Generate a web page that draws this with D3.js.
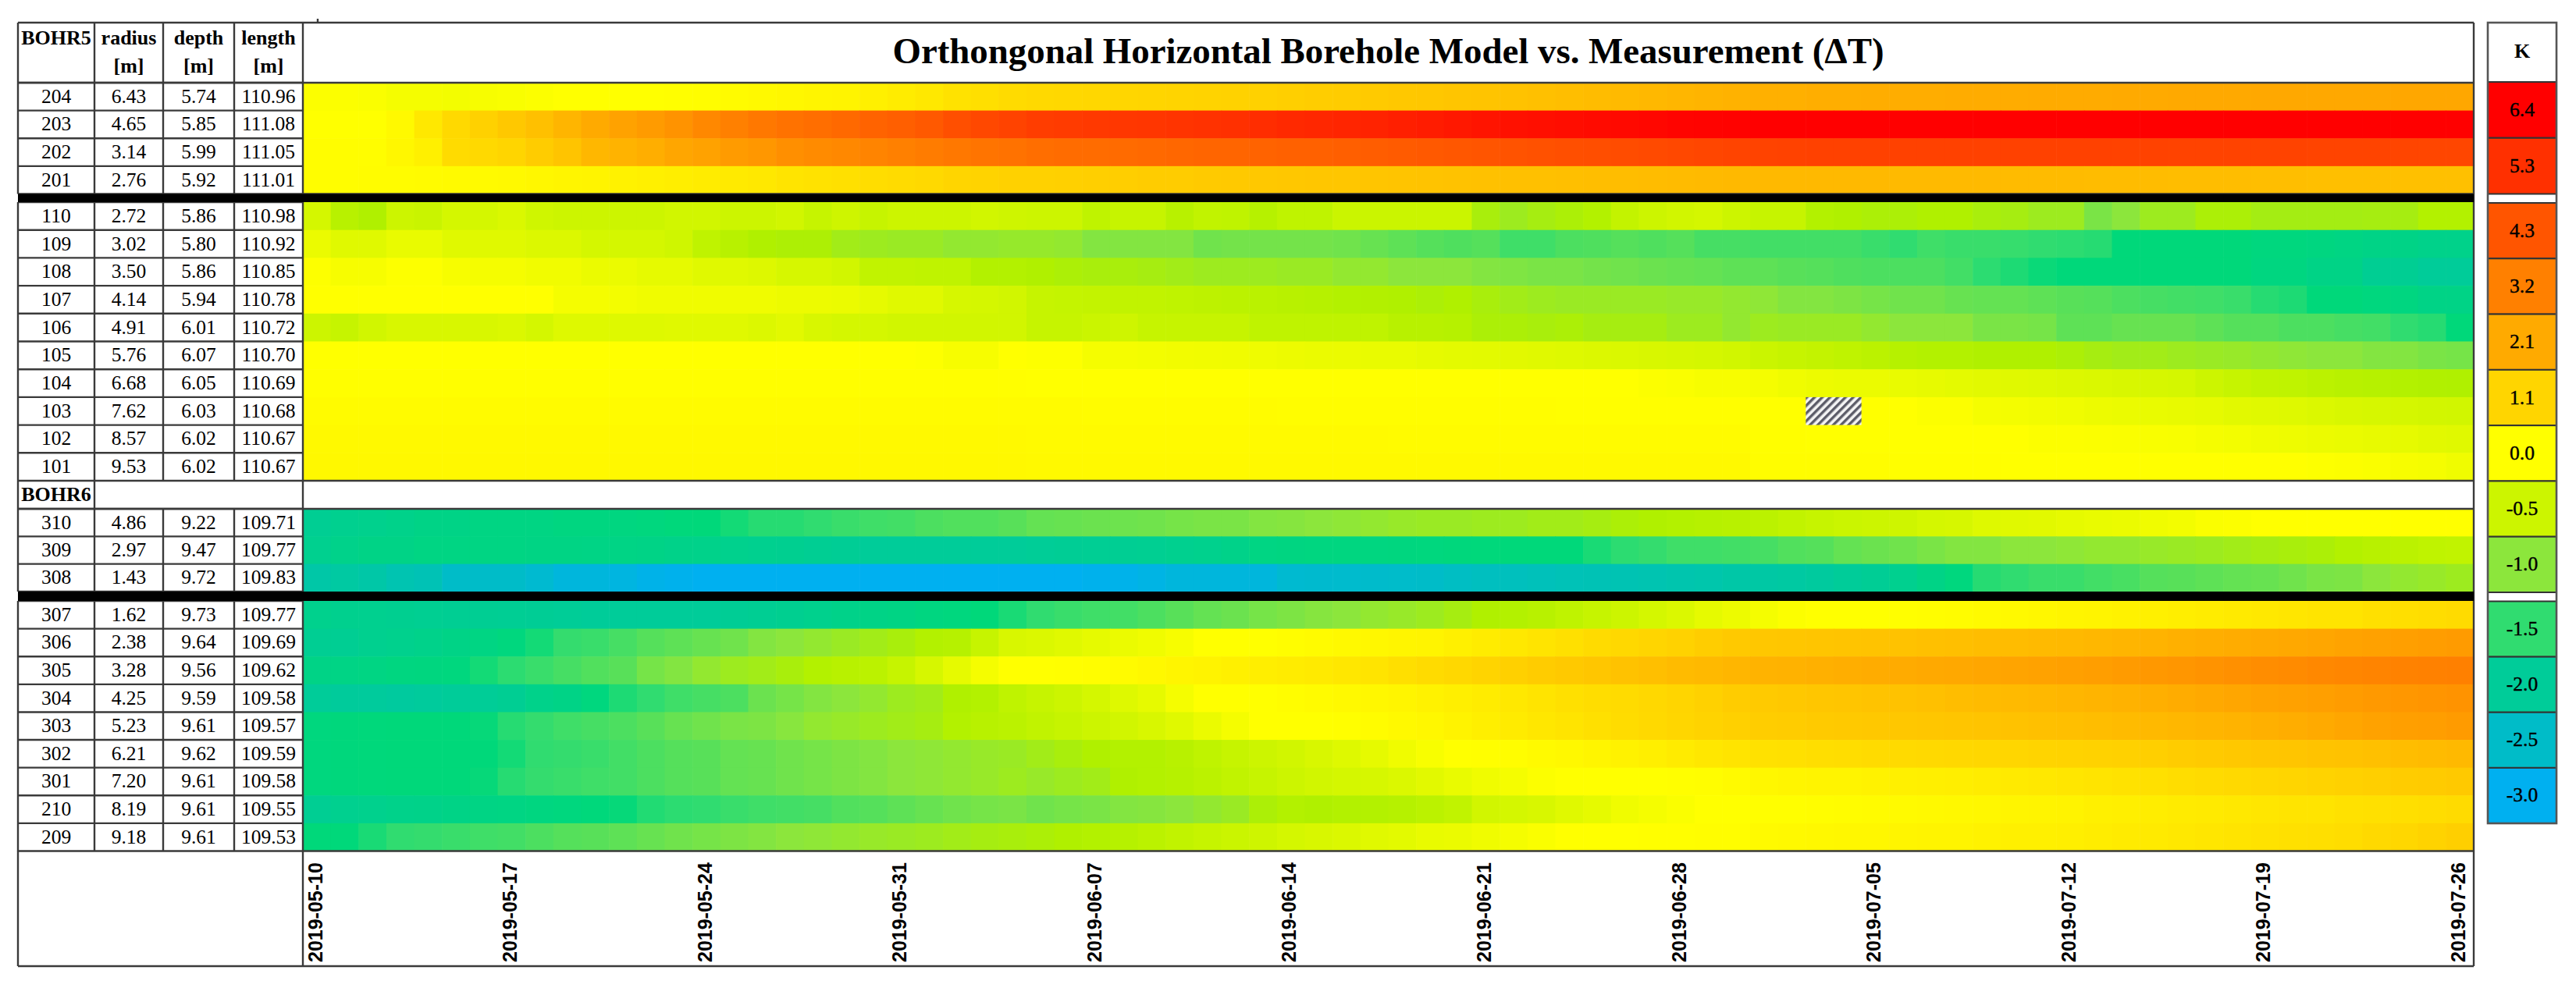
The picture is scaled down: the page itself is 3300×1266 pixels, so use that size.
<!DOCTYPE html>
<html>
<head>
<meta charset="utf-8">
<script src="https://cdnjs.cloudflare.com/ajax/libs/d3/7.8.5/d3.min.js"></script>
<style type='text/css'>
body { margin: 0; background: #fff; }
svg { display: block; }
text { font-family: "Liberation Serif", serif; fill: #000; }
.grid { stroke: #3a3a3a; stroke-width: 2.4; fill: none; }
.frame { stroke: #555; stroke-width: 2.6; fill: none; }
.dates text { font-family: "Liberation Sans", sans-serif; font-weight: bold; font-size: 25px; }
</style>
</head>
<body>
<div id="plot"></div>
<script type='text/javascript'>
var title = "Orthongonal Horizontal Borehole Model vs. Measurement (\u0394T)";
var headerTop = ["BOHR5", "radius", "depth", "length"];
var headerBottom = ["", "[m]", "[m]", "[m]"];
var secondHeader = "BOHR6";
var tickLabels = ["2019-05-10","2019-05-17","2019-05-24","2019-05-31","2019-06-07","2019-06-14","2019-06-21","2019-06-28","2019-07-05","2019-07-12","2019-07-19","2019-07-26"];

var ids = ["204","203","202","201","110","109","108","107","106","105","104","103","102","101","310","309","308","307","306","305","304","303","302","301","210","209"];
var radius = ["6.43","4.65","3.14","2.76","2.72","3.02","3.50","4.14","4.91","5.76","6.68","7.62","8.57","9.53","4.86","2.97","1.43","1.62","2.38","3.28","4.25","5.23","6.21","7.20","8.19","9.18"];
var depth = ["5.74","5.85","5.99","5.92","5.86","5.80","5.86","5.94","6.01","6.07","6.05","6.03","6.02","6.02","9.22","9.47","9.72","9.73","9.64","9.56","9.59","9.61","9.62","9.61","9.61","9.61"];
var length = ["110.96","111.08","111.05","111.01","110.98","110.92","110.85","110.78","110.72","110.70","110.69","110.68","110.67","110.67","109.71","109.77","109.83","109.77","109.69","109.62","109.58","109.57","109.59","109.58","109.55","109.53"];

var legendValues = [6.4,5.3,4.3,3.2,2.1,1.1,0,-0.5,-1,-1.5,-2,-2.5,-3];
var colorStops = [-3,-2.5,-2,-1.75,-1.5,-1,-0.75,-0.5,0,1.1,2.1,3.2,4.3,5.3,6.4];
var colorValues = ["#00b0f0","#00bcc8","#00cc99","#00d87a","#30dc70","#8ce63c","#b0f000","#ccf500","#ffff00","#ffd500","#ffaa00","#ff8000","#ff5500","#ff3000","#ff0000"];

// one value per day
var row204 = [-.03,-.03,-.05,-.1,-.1,-.12,-.08,-.06,-.03,0,0,0,0,.03,.06,.1,.15,.2,.25,.3,.4,.5,.6,.75,.85,.95,
  1,1.02,1.05,1.07,1.1,1.12,1.15,1.18,1.2,1.25,1.28,1.32,1.35,1.4,1.43,1.47,1.5,1.55,1.6,1.63,1.68,1.72,1.77,1.82,1.87,1.92,
  1.95,1.97,2,2,2.02,2.02,2.03,2.05,2.05,2.06,2.07,2.08,2.08,2.1,2.1,2.12,2.12,2.13,2.14,2.15,2.15,2.16,2.16,2.17,2.18,2.18];
var row203 = [0,0,0,.15,.6,1,1.2,1.4,1.6,1.85,2.1,2.3,2.5,2.7,3,3.2,3.4,3.55,3.65,3.8,3.95,4.05,4.2,4.45,4.65,4.8,
  4.95,5,5.05,5.1,5.15,5.2,5.25,5.3,5.37,5.45,5.5,5.55,5.6,5.7,5.75,5.85,5.95,6,6.05,6.1,6.15,6.2,6.25,6.3,6.33,6.35,
  6.4,6.4,6.4,6.4,6.4,6.4,6.4,6.4,6.4,6.4,6.4,6.4,6.4,6.4,6.4,6.4,6.4,6.4,6.4,6.4,6.4,6.4,6.4,6.4,6.4,6.4];
var row202 = [.05,.05,.05,.2,.4,.95,1,1.1,1.3,1.5,1.8,1.9,2,2.2,2.3,2.5,2.6,2.8,2.9,3,3.1,3.2,3.3,3.4,3.5,3.55,
  3.65,3.7,3.7,3.75,3.8,3.85,3.9,3.9,3.95,4,4,4.05,4.1,4.15,4.2,4.25,4.3,4.35,4.4,4.45,4.5,4.55,4.6,4.65,4.7,4.75,
  4.8,4.82,4.85,4.85,4.85,4.85,4.85,4.85,4.85,4.85,4.85,4.85,4.85,4.82,4.82,4.8,4.8,4.8,4.78,4.78,4.75,4.75,4.75,4.72,4.7,4.7];
var row201 = [.05,.05,.07,.08,.1,.12,.14,.16,.2,.25,.3,.35,.4,.45,.5,.55,.6,.7,.75,.8,.9,.95,1,1.1,1.15,1.2,
  1.2,1.22,1.25,1.27,1.3,1.32,1.35,1.37,1.4,1.42,1.44,1.46,1.48,1.5,1.52,1.54,1.56,1.58,1.6,1.62,1.64,1.66,1.68,1.7,1.72,1.75,
  1.75,1.75,1.75,1.74,1.74,1.73,1.73,1.72,1.72,1.71,1.7,1.7,1.69,1.68,1.67,1.66,1.65,1.65,1.64,1.63,1.62,1.62,1.61,1.6,1.6,1.6];
var row110 = [-.42,-.68,-.75,-.5,-.53,-.42,-.42,-.36,-.47,-.5,-.5,-.5,-.5,-.45,-.45,-.5,-.5,-.45,-.55,-.48,-.55,-.5,-.5,-.5,-.45,-.48,
  -.5,-.5,-.62,-.55,-.55,-.68,-.6,-.62,-.7,-.62,-.62,-.52,-.52,-.52,-.52,-.52,-.8,-.88,-.82,-.78,-.72,-.58,-.5,-.45,-.42,-.5,
  -.55,-.55,-.72,-.75,-.78,-.78,-.75,-.75,-.8,-.82,-.88,-.88,-1.1,-1,-.88,-.88,-.78,-.78,-.83,-.83,-.83,-.83,-.82,-.82,-.72,-.72];
var row109 = [-.2,-.3,-.3,-.22,-.22,-.3,-.3,-.3,-.34,-.34,-.42,-.42,-.42,-.47,-.62,-.68,-.75,-.77,-.77,-.85,-.88,-.9,-.9,-.95,-.95,-.93,
  -.93,-.95,-1.05,-1.05,-1.05,-1.05,-1.15,-1.13,-1.13,-1.13,-1.13,-1.15,-1.2,-1.25,-1.3,-1.33,-1.3,-1.42,-1.42,-1.35,-1.33,-1.3,-1.33,-1.3,-1.38,-1.38,
  -1.4,-1.4,-1.4,-1.4,-1.45,-1.5,-1.42,-1.45,-1.45,-1.47,-1.5,-1.52,-1.55,-1.75,-1.75,-1.75,-1.75,-1.75,-1.78,-1.78,-1.8,-1.82,-1.85,-1.85,-1.88,-1.88];
var row108 = [-.02,-.08,-.08,-.02,-.02,-.08,-.1,-.1,-.14,-.14,-.2,-.2,-.25,-.25,-.3,-.3,-.33,-.4,-.4,-.45,-.6,-.6,-.62,-.62,-.72,-.72,
  -.75,-.78,-.8,-.8,-.82,-.85,-.88,-.88,-.88,-.9,-.9,-.95,-.95,-1,-1,-1,-1.05,-1.07,-1.1,-1.1,-1.13,-1.15,-1.18,-1.2,-1.22,-1.25,
  -1.25,-1.28,-1.3,-1.33,-1.35,-1.35,-1.35,-1.4,-1.52,-1.6,-1.7,-1.75,-1.75,-1.75,-1.75,-1.75,-1.75,-1.75,-1.8,-1.8,-1.85,-1.85,-1.95,-1.95,-2,-2];
var row107 = [0,0,0,0,0,0,0,0,0,-.1,-.1,-.12,-.15,-.15,-.15,-.15,-.15,-.18,-.18,-.2,-.25,-.3,-.3,-.4,-.42,-.45,
  -.55,-.57,-.58,-.6,-.6,-.62,-.63,-.65,-.66,-.68,-.7,-.72,-.73,-.75,-.78,-.75,-.8,-.85,-.88,-.9,-.9,-.9,-.9,-.92,-.92,-.95,
  -.98,-1.05,-1.05,-1.08,-1.12,-1.15,-1.15,-1.2,-1.22,-1.22,-1.25,-1.28,-1.3,-1.35,-1.38,-1.4,-1.42,-1.45,-1.55,-1.6,-1.75,-1.75,-1.78,-1.8,-1.85,-1.85];
var row106 = [-.5,-.55,-.45,-.38,-.38,-.38,-.38,-.35,-.42,-.32,-.32,-.32,-.32,-.3,-.3,-.3,-.34,-.28,-.38,-.42,-.42,-.45,-.45,-.45,-.45,-.45,
  -.55,-.55,-.52,-.48,-.55,-.55,-.55,-.55,-.62,-.62,-.62,-.62,-.62,-.68,-.68,-.7,-.78,-.78,-.8,-.78,-.82,-.82,-.82,-.88,-.88,-.95,
  -.88,-.9,-.9,-.9,-.95,-1,-1,-1,-1.1,-1.1,-1.12,-1.25,-1.25,-1.2,-1.2,-1.2,-1.25,-1.3,-1.3,-1.35,-1.35,-1.38,-1.4,-1.5,-1.55,-1.75];
var row105 = [0,0,0,0,0,0,0,0,0,0,0,0,0,0,0,0,0,0,0,0,0,0,-.02,-.08,-.08,0,
  -.02,-.02,-.1,-.1,-.12,-.13,-.14,-.15,-.16,-.18,-.2,-.2,-.22,-.22,-.25,-.26,-.27,-.28,-.3,-.32,-.34,-.36,-.38,-.4,-.42,-.45,
  -.52,-.55,-.58,-.62,-.65,-.7,-.72,-.72,-.75,-.75,-.75,-.78,-.82,-.85,-.85,-.88,-.9,-.92,-.95,-.98,-1,-1,-1.05,-1.05,-1.1,-1.12];
var row104 = [.02,.02,.02,.02,.02,.02,.02,.02,.02,.02,.02,.02,.02,.02,.02,.02,.02,.02,.02,.02,.02,.02,.02,.02,.02,.02,
  0,0,0,0,0,0,0,0,0,0,0,0,0,0,0,0,0,0,0,0,0,0,-.03,-.05,-.08,-.08,
  -.1,-.15,-.18,-.2,-.2,-.22,-.24,-.26,-.28,-.3,-.32,-.34,-.36,-.38,-.4,-.42,-.5,-.55,-.6,-.62,-.65,-.68,-.7,-.72,-.74,-.75];
var row103 = [.1,.1,.1,.1,.1,.1,.1,.1,.1,.1,.1,.1,.1,.1,.1,.1,.1,.1,.1,.1,.1,.1,.1,.1,.1,.1,
  .1,.1,.08,.08,.08,.08,.07,.07,.07,.06,.06,.06,.05,.05,.05,.05,.04,.04,.04,.03,.03,.03,.02,.02,.02,.02,
  0,0,null,null,0,0,-.03,-.03,-.1,-.11,-.13,-.15,-.18,-.2,-.22,-.23,-.25,-.28,-.3,-.32,-.35,-.38,-.4,-.42,-.44,-.45];
var row102 = [.15,.15,.15,.15,.15,.15,.15,.15,.15,.15,.15,.15,.15,.15,.15,.15,.15,.15,.15,.15,.15,.15,.15,.15,.15,.15,
  .13,.13,.13,.13,.13,.13,.13,.13,.13,.13,.13,.13,.13,.1,.1,.1,.1,.1,.1,.1,.1,.1,.1,.1,.1,.1,
  .02,.02,.01,.01,0,0,0,0,0,0,-.03,-.03,-.04,-.05,-.06,-.07,-.1,-.12,-.15,-.17,-.19,-.21,-.23,-.25,-.28,-.3];
var row101 = [.18,.18,.18,.18,.18,.18,.18,.18,.18,.18,.18,.18,.18,.18,.18,.18,.18,.18,.18,.18,.18,.18,.18,.18,.18,.18,
  .15,.15,.15,.15,.15,.15,.15,.15,.15,.15,.15,.15,.15,.15,.15,.15,.15,.15,.15,.15,.15,.15,.15,.15,.15,.15,
  .05,.05,.05,.04,.04,.03,.03,.02,.02,.01,.01,0,0,0,0,0,0,0,0,0,-.02,-.03,-.05,-.08,-.1,-.15];
var row310 = [-1.95,-1.92,-1.9,-1.88,-1.85,-1.85,-1.82,-1.82,-1.82,-1.8,-1.8,-1.8,-1.78,-1.76,-1.75,-1.65,-1.55,-1.55,-1.5,-1.45,-1.42,-1.4,-1.35,-1.32,-1.32,-1.28,
  -1.22,-1.2,-1.18,-1.17,-1.15,-1.12,-1.1,-1.1,-1.05,-1.03,-1,-.98,-.95,-.92,-.9,-.9,-.88,-.88,-.85,-.85,-.82,-.78,-.75,-.72,-.7,-.68,
  -.65,-.6,-.55,-.52,-.5,-.48,-.42,-.4,-.32,-.3,-.28,-.25,-.22,-.2,-.15,-.12,-.05,-.03,0,0,0,0,0,0,0,0];
var row309 = [-1.92,-1.88,-1.85,-1.85,-1.82,-1.82,-1.82,-1.82,-1.83,-1.83,-1.84,-1.84,-1.85,-1.87,-1.88,-1.9,-1.92,-1.93,-1.95,-1.97,-2,-2,-2,-2,-2,-2,
  -1.98,-1.97,-1.96,-1.95,-1.94,-1.92,-1.9,-1.87,-1.82,-1.81,-1.8,-1.8,-1.8,-1.79,-1.78,-1.77,-1.76,-1.75,-1.75,-1.75,-1.62,-1.52,-1.48,-1.42,-1.42,-1.4,
  -1.38,-1.32,-1.3,-1.22,-1.18,-1.15,-1.1,-1.05,-1.05,-1,-1,-.98,-.95,-.95,-.92,-.9,-.88,-.85,-.82,-.8,-.78,-.72,-.68,-.65,-.62,-.6];
var row308 = [-2.15,-2.1,-2.15,-2.25,-2.3,-2.5,-2.5,-2.5,-2.6,-2.75,-2.75,-2.8,-2.9,-2.95,-3,-3,-3,-3,-3,-3,-3,-3,-3,-3,-3,-3,
  -3,-3,-2.95,-2.92,-2.85,-2.75,-2.75,-2.75,-2.75,-2.6,-2.58,-2.56,-2.54,-2.52,-2.5,-2.45,-2.4,-2.38,-2.35,-2.32,-2.3,-2.28,-2.25,-2.22,-2.2,-2.15,
  -2.12,-2.1,-2.05,-2,-1.97,-1.92,-1.85,-1.78,-1.55,-1.5,-1.45,-1.45,-1.4,-1.37,-1.3,-1.28,-1.25,-1.22,-1.2,-1.15,-1.1,-1.08,-1,-.95,-.92,-.88];
var row307 = [-1.9,-1.91,-1.92,-1.93,-1.94,-1.95,-1.95,-1.96,-1.97,-1.98,-2,-2,-2,-2,-2,-1.97,-1.95,-1.93,-1.9,-1.87,-1.85,-1.83,-1.8,-1.78,-1.75,-1.62,
  -1.5,-1.45,-1.42,-1.4,-1.35,-1.28,-1.22,-1.18,-1.12,-1.08,-1.03,-1,-.95,-.92,-.88,-.82,-.75,-.72,-.68,-.62,-.55,-.5,-.42,-.35,-.25,-.18,
  -.1,-.03,0,0,0,.02,.05,.08,.12,.15,.2,.25,.3,.35,.4,.45,.5,.55,.6,.65,.7,.72,.8,.85,.9,.95];
var row306 = [-1.95,-1.95,-1.92,-1.9,-1.88,-1.85,-1.82,-1.78,-1.65,-1.48,-1.45,-1.38,-1.3,-1.25,-1.2,-1.15,-1.05,-1,-.95,-.9,-.85,-.8,-.72,-.7,-.55,-.38,
  -.35,-.3,-.25,-.2,-.15,-.08,0,0,0,.05,.1,.15,.2,.25,.3,.4,.5,.6,.72,.82,.95,1.02,1.1,1.18,1.28,1.38,
  1.42,1.45,1.48,1.5,1.52,1.55,1.58,1.62,1.65,1.68,1.72,1.75,1.8,1.85,1.9,1.95,2,2.05,2.1,2.15,2.2,2.28,2.33,2.4,2.45,2.5];
var row305 = [-1.85,-1.84,-1.82,-1.8,-1.79,-1.78,-1.65,-1.52,-1.45,-1.38,-1.32,-1.28,-1.12,-1.05,-.95,-.88,-.85,-.8,-.72,-.68,-.65,-.55,-.4,-.25,-.1,0,
  0,.03,.06,.1,.18,.25,.32,.38,.45,.5,.55,.62,.72,.85,.95,1.03,1.12,1.22,1.3,1.38,1.45,1.55,1.62,1.7,1.75,1.82,
  1.88,1.92,1.96,2,2.05,2.08,2.12,2.15,2.2,2.25,2.3,2.35,2.42,2.5,2.58,2.62,2.7,2.78,2.85,2.92,3,3.05,3.1,3.15,3.18,3.2];
var row304 = [-2,-2.02,-2.03,-2.05,-2.03,-2,-1.98,-1.95,-1.88,-1.85,-1.78,-1.6,-1.5,-1.42,-1.38,-1.35,-1.18,-1.12,-1.05,-1,-.95,-.88,-.85,-.75,-.72,-.62,
  -.55,-.5,-.42,-.32,-.25,-.1,0,0,0,.05,.1,.15,.2,.25,.35,.42,.5,.6,.7,.8,.88,.95,1.02,1.1,1.2,1.3,
  1.36,1.4,1.45,1.48,1.52,1.55,1.6,1.65,1.7,1.73,1.77,1.82,1.87,1.92,1.98,2.05,2.12,2.2,2.28,2.33,2.4,2.47,2.55,2.6,2.65,2.7];
var row303 = [-1.78,-1.77,-1.76,-1.75,-1.75,-1.75,-1.72,-1.55,-1.48,-1.42,-1.38,-1.35,-1.28,-1.2,-1.15,-1.1,-1.08,-1.02,-.95,-.92,-.88,-.85,-.82,-.72,-.68,-.65,
  -.6,-.55,-.5,-.45,-.38,-.3,-.2,-.1,0,0,0,.03,.08,.15,.22,.32,.42,.52,.62,.72,.82,.92,1,1.07,1.14,1.22,
  1.28,1.32,1.35,1.38,1.4,1.42,1.45,1.48,1.5,1.55,1.58,1.62,1.65,1.7,1.75,1.8,1.85,1.9,1.95,2.02,2.1,2.2,2.3,2.38,2.42,2.5];
var row302 = [-1.78,-1.77,-1.76,-1.75,-1.75,-1.75,-1.75,-1.65,-1.5,-1.48,-1.45,-1.4,-1.35,-1.3,-1.28,-1.22,-1.2,-1.15,-1.12,-1.08,-1.05,-1,-.98,-.95,-.92,-.9,
  -.85,-.8,-.75,-.72,-.72,-.68,-.62,-.55,-.5,-.45,-.38,-.32,-.25,-.15,-.07,0,.02,.06,.12,.18,.25,.33,.42,.52,.62,.72,
  .78,.82,.86,.9,.93,.97,1,1.02,1.05,1.08,1.12,1.15,1.18,1.2,1.25,1.3,1.35,1.4,1.45,1.48,1.52,1.55,1.6,1.65,1.7,1.75];
var row301 = [-1.78,-1.77,-1.76,-1.75,-1.75,-1.75,-1.72,-1.55,-1.48,-1.45,-1.42,-1.4,-1.35,-1.3,-1.28,-1.22,-1.2,-1.15,-1.12,-1.08,-1.05,-1,-.98,-.95,-.92,-.88,
  -.92,-.88,-.85,-.75,-.72,-.7,-.65,-.6,-.55,-.5,-.45,-.42,-.4,-.35,-.28,-.22,-.15,-.1,-.03,0,0,0,0,.03,.05,.12,
  .2,.25,.28,.3,.35,.38,.42,.45,.5,.55,.6,.65,.7,.75,.82,.88,.95,1,1.05,1.1,1.15,1.2,1.25,1.3,1.33,1.38];
var row210 = [-1.95,-1.92,-1.9,-1.88,-1.87,-1.85,-1.83,-1.82,-1.8,-1.78,-1.76,-1.72,-1.58,-1.52,-1.5,-1.45,-1.42,-1.4,-1.38,-1.32,-1.3,-1.25,-1.2,-1.15,-1.12,-1.1,
  -1.15,-1.12,-1.1,-1.05,-1.03,-1,-.95,-.9,-.78,-.72,-.75,-.72,-.72,-.7,-.65,-.6,-.45,-.42,-.38,-.3,-.25,-.15,-.1,-.05,0,0,
  .02,.03,.05,.08,.1,.12,.15,.18,.2,.25,.28,.32,.38,.42,.48,.52,.55,.6,.65,.7,.72,.78,.82,.85,.9,.95];
var row209 = [-1.75,-1.75,-1.62,-1.5,-1.48,-1.45,-1.42,-1.4,-1.35,-1.3,-1.28,-1.25,-1.2,-1.15,-1.12,-1.08,-1.05,-1,-.98,-.95,-.92,-.9,-.88,-.85,-.82,-.8,
  -.78,-.75,-.72,-.7,-.65,-.6,-.55,-.52,-.48,-.42,-.38,-.35,-.3,-.27,-.22,-.2,-.15,-.1,-.05,0,0,.01,.02,.03,.04,.05,
  .12,.15,.18,.2,.22,.25,.28,.3,.35,.38,.4,.42,.48,.52,.55,.6,.65,.7,.75,.8,.85,.9,1,1.05,1.15,1.25];

var rows = [row204,row203,row202,row201,row110,row109,row108,row107,row106,row105,row104,row103,row102,row101,row310,row309,row308,row307,row306,row305,row304,row303,row302,row301,row210,row209];

var width = 3300, height = 1266;
var left = 23, heatLeft = 388, heatRight = 3169, top0 = 29, headBottom = 106, bottom = 1238;
var colEdges = [23, 121, 209, 300, 388];

var days = d3.utcDay.range(new Date(Date.UTC(2019,4,10)), new Date(Date.UTC(2019,6,27))).map(d3.utcFormat("%Y-%m-%d"));
var x = d3.scaleBand().domain(days).range([heatLeft, heatRight]);
var color = d3.scaleLinear().domain(colorStops).range(colorValues).clamp(true);

// the four blocks of rows, separated by the black bars and the BOHR6 line
var blocks = [
  {from: 0, to: 4, y0: 106, y1: 248.5},
  {from: 4, to: 14, y0: 259, y1: 616},
  {from: 14, to: 17, y0: 652, y1: 758},
  {from: 17, to: 26, y0: 770, y1: 1090.5}
];
blocks.forEach(function(b) {
  b.y = d3.scaleBand().domain(ids.slice(b.from, b.to)).range([b.y0, b.y1]);
});

var svg = d3.select("div#plot").append("svg")
    .attr("width", width)
    .attr("height", height);

var pattern = svg.append("defs").append("pattern")
    .attr("id", "hatch")
    .attr("patternUnits", "userSpaceOnUse")
    .attr("width", 7)
    .attr("height", 7)
    .attr("patternTransform", "rotate(45)");
pattern.append("rect").attr("width", 7).attr("height", 7).attr("fill", "#f4f4f4");
pattern.append("rect").attr("width", 3.4).attr("height", 7).attr("fill", "#5c5c68");

// heat cells
blocks.forEach(function(b) {
  ids.slice(b.from, b.to).forEach(function(id) {
    var values = rows[ids.indexOf(id)];
    svg.append("g").selectAll("rect")
      .data(values)
      .enter().append("rect")
        .attr("x", function(d, i) { return x(days[i]); })
        .attr("y", b.y(id))
        .attr("width", x.bandwidth() + 0.6)
        .attr("height", b.y.bandwidth() + 0.6)
        .attr("fill", function(d) { return d === null ? "url(#hatch)" : color(d); });
  });
});

// table lines and texts
var lines = svg.append("g").attr("class", "grid");
function hline(x1, x2, y) { lines.append("line").attr("x1", x1).attr("x2", x2).attr("y1", y).attr("y2", y); }
function vline(xv, y1, y2) { lines.append("line").attr("x1", xv).attr("x2", xv).attr("y1", y1).attr("y2", y2); }

blocks.forEach(function(b) {
  colEdges.forEach(function(e) { vline(e, b.y0, b.y1); });
  b.y.domain().forEach(function(id) { hline(left, heatLeft, b.y(id)); });
  hline(left, heatLeft, b.y1);
});
colEdges.forEach(function(e) { vline(e, top0, headBottom); });
vline(left, 616, 652); vline(colEdges[1], 616, 652); vline(heatLeft, 616, 652);
vline(left, 1090, bottom); vline(heatLeft, 1090, bottom);
hline(left, heatRight, top0);
hline(left, heatRight, headBottom);
hline(heatLeft, heatRight, 248.5);
hline(heatLeft, heatRight, 616);
hline(left, heatRight, 652);
hline(heatLeft, heatRight, 1090.5);
hline(left, heatRight, bottom);
vline(heatRight, top0, bottom);
vline(407, 24, top0);

svg.append("rect").attr("x", left).attr("y", 248.5).attr("width", heatRight - left).attr("height", 10.5).attr("fill", "#000");
svg.append("rect").attr("x", left).attr("y", 758).attr("width", heatRight - left).attr("height", 12).attr("fill", "#000");

var tableCols = [ids, radius, depth, length];
tableCols.forEach(function(col, c) {
  var cx = (colEdges[c] + colEdges[c + 1]) / 2;
  svg.append("text").attr("x", cx).attr("y", 57).attr("text-anchor", "middle")
    .style("font-size", "26px").style("font-weight", "bold").text(headerTop[c]);
  svg.append("text").attr("x", cx).attr("y", 93).attr("text-anchor", "middle")
    .style("font-size", "26px").style("font-weight", "bold").text(headerBottom[c]);
  blocks.forEach(function(b) {
    svg.append("g").selectAll("text")
      .data(col.slice(b.from, b.to))
      .enter().append("text")
        .attr("x", cx)
        .attr("y", function(d, i) { return b.y(ids[b.from + i]) + b.y.bandwidth() / 2 + 8; })
        .attr("text-anchor", "middle")
        .style("font-size", "25.5px")
        .text(function(d) { return d; });
  });
});
svg.append("text").attr("x", (colEdges[0] + colEdges[1]) / 2).attr("y", 642).attr("text-anchor", "middle")
  .style("font-size", "26px").style("font-weight", "bold").text(secondHeader);

svg.append("text")
  .attr("x", (heatLeft + heatRight) / 2 - 0)
  .attr("y", 81)
  .attr("text-anchor", "middle")
  .attr("textLength", 1270)
  .attr("lengthAdjust", "spacingAndGlyphs")
  .style("font-size", "46px")
  .style("font-weight", "bold")
  .text(title);

// date labels
var dateAxis = d3.axisBottom(x).tickValues(tickLabels).tickSize(0);
var dateG = svg.append("g")
    .attr("class", "dates")
    .attr("transform", "translate(0," + 1092 + ")")
    .call(dateAxis);
dateG.select(".domain").remove();
dateG.selectAll("text")
    .attr("transform", "translate(-2,141) rotate(-90)")
    .attr("x", 0)
    .attr("y", 0)
    .attr("dy", "0.35em")
    .attr("text-anchor", "start");

// legend
var legLeft = 3187, legRight = 3275;
var legBlocks = [
  {from: 0, to: 2, y0: 105, y1: 248.5},
  {from: 2, to: 9, y0: 260, y1: 759},
  {from: 9, to: 13, y0: 770.5, y1: 1055}
];
var leg = svg.append("g");
legBlocks.forEach(function(b) {
  var vals = legendValues.slice(b.from, b.to);
  var ly = d3.scaleBand().domain(vals).range([b.y0, b.y1]);
  leg.append("g").selectAll("rect").data(vals).enter().append("rect")
    .attr("x", legLeft).attr("y", function(d) { return ly(d); })
    .attr("width", legRight - legLeft).attr("height", ly.bandwidth())
    .attr("fill", function(d) { return color(d); })
    .attr("stroke", "#333").attr("stroke-width", 2);
  leg.append("g").selectAll("text").data(vals).enter().append("text")
    .attr("x", (legLeft + legRight) / 2)
    .attr("y", function(d) { return ly(d) + ly.bandwidth() / 2 + 8; })
    .attr("text-anchor", "middle")
    .style("font-size", "25.5px")
    .style("stroke", "#000").style("stroke-width", 0.4)
    .text(function(d) { return d.toFixed(1); });
});
leg.append("rect").attr("class", "frame").attr("x", legLeft).attr("y", top0).attr("width", legRight - legLeft).attr("height", 1055 - top0);
leg.append("text").attr("x", (legLeft + legRight) / 2).attr("y", 74).attr("text-anchor", "middle")
  .style("font-size", "26px").style("font-weight", "bold").text("K");
</script>
</body>
</html>
